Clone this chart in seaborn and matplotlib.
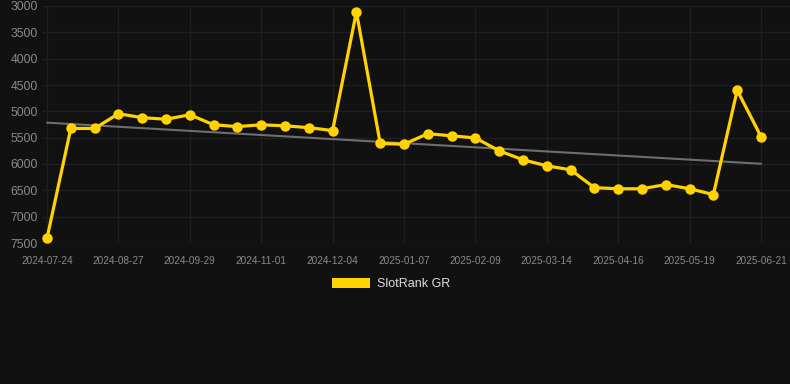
import numpy as np
import pandas as pd
import matplotlib
matplotlib.use("Agg")
import matplotlib.pyplot as plt
from matplotlib.patches import Patch
import seaborn as sns

# ---- data ----
rank_values = [7410, 5325, 5325, 5045, 5120, 5150, 5065, 5255, 5290, 5255,
               5275, 5310, 5365, 3110, 5610, 5625, 5425, 5465, 5505, 5750,
               5920, 6035, 6110, 6450, 6470, 6470, 6390, 6470, 6580, 4600,
               5480]
trend_values = [5215, 5995]  # trend line at first and last point
tick_labels = ["2024-07-24", "2024-08-27", "2024-09-29", "2024-11-01",
               "2024-12-04", "2025-01-07", "2025-02-09", "2025-03-14",
               "2025-04-16", "2025-05-19", "2025-06-21"]
tick_every = 3  # a date label on every 3rd point
y_ticks = [3000, 3500, 4000, 4500, 5000, 5500, 6000, 6500, 7000, 7500]
series_name = "SlotRank GR"

idx = np.arange(len(rank_values))
df = pd.DataFrame({"i": idx, "rank": rank_values})
trend_df = pd.DataFrame({"i": [idx[0], idx[-1]], "rank": trend_values})

BG = "#111111"
GRID = "#1f1f1f"
YELLOW = "#FFD200"

sns.set_theme(style="dark")
plt.rcParams["font.family"] = ["Liberation Sans", "DejaVu Sans"]

fig = plt.figure(figsize=(7.9, 3.84), dpi=100, facecolor=BG)
ax = fig.add_axes([42 / 790, 1 - 243 / 384, (790 - 42) / 790, (243 - 6) / 384])
ax.set_facecolor(BG)

sns.lineplot(data=trend_df, x="i", y="rank", ax=ax, color="#6e6e6e",
             linewidth=1.5, zorder=2)
sns.lineplot(data=df, x="i", y="rank", ax=ax, color=YELLOW, linewidth=2.3,
             marker="o", markersize=7.5, markeredgewidth=0, zorder=3,
             clip_on=False)

# x range: first point at px 47, last at px 761 within axes 42..790
n = len(rank_values) - 1
ppu = (761 - 47) / n
ax.set_xlim(-5 / ppu, n + 29 / ppu)
ax.set_ylim(7500, 3000)

ax.set_xticks(idx[::tick_every])
ax.set_xticklabels(tick_labels)
ax.set_yticks(y_ticks)
ax.set_yticklabels([str(v) for v in y_ticks])

ax.grid(True, color=GRID, linewidth=1)
ax.tick_params(axis="x", colors=GRID, length=7, width=1, labelsize=7.2,
               labelcolor="#8a8a8a", pad=2)
ax.tick_params(axis="y", length=0, labelsize=8.8, labelcolor="#8a8a8a", pad=3)
for s in ax.spines.values():
    s.set_visible(False)
ax.set_xlabel("")
ax.set_ylabel("")
if ax.get_legend():
    ax.get_legend().remove()

handle = Patch(facecolor=YELLOW, edgecolor="none")
fig.legend([handle], [series_name], loc="center", bbox_to_anchor=(391 / 790, 1 - 284 / 384),
           frameon=False, fontsize=9, labelcolor="#dddddd", handlelength=3.1,
           handleheight=0.95, handletextpad=0.55)

fig.savefig("out.png", dpi=100, facecolor=BG)
